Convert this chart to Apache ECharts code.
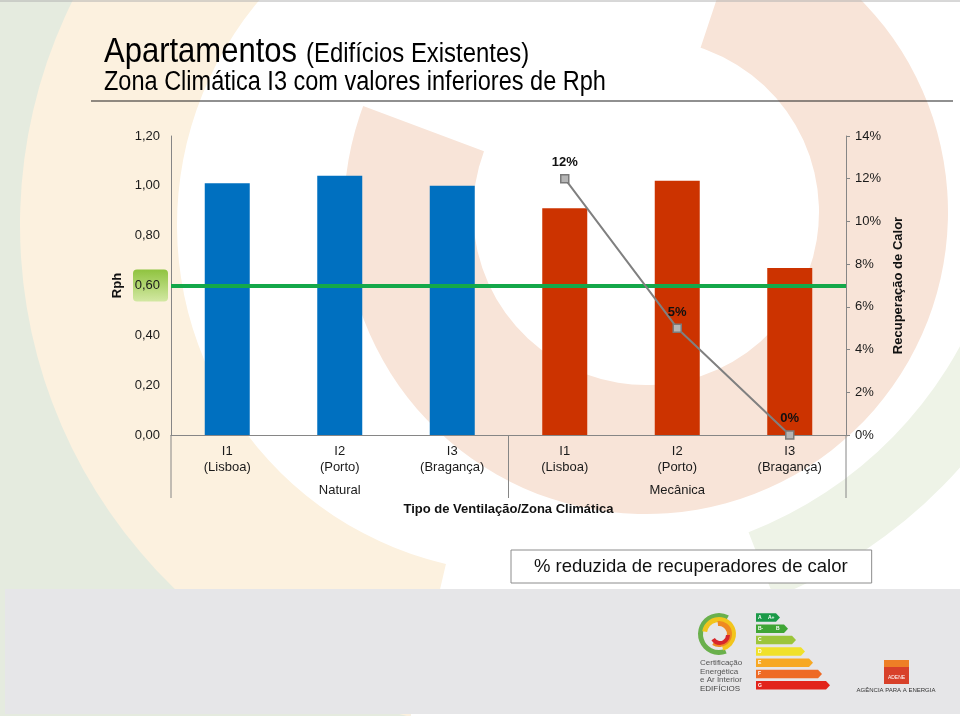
<!DOCTYPE html>
<html><head><meta charset="utf-8">
<script src="https://cdn.jsdelivr.net/npm/echarts@6/dist/echarts.min.js"></script>
<style>html,body{margin:0;padding:0;background:#fff}#c{width:960px;height:716px}</style>
</head><body><div id="c"></div>
<script>
// ---- data ----
const categories = ['I1\n(Lisboa)', 'I2\n(Porto)', 'I3\n(Bragança)', 'I1\n(Lisboa)', 'I2\n(Porto)', 'I3\n(Bragança)'];
const groupOfCategory = ['Natural', 'Natural', 'Natural', 'Mecânica', 'Mecânica', 'Mecânica'];
const groupLabels = ['', 'Natural', '', '', 'Mecânica', ''];
const rphValues = [1.01, 1.04, 1.00, 0.91, 1.02, 0.67];
const recuperacaoPct = [null, null, null, 12, 5, 0];
const rphReference = 0.60;
const lineSeriesName = '% reduzida de recuperadores de calor';
const axisTitleX = 'Tipo de Ventilação/Zona Climática';
const titleMain = 'Apartamentos';
const titleParen = '(Edifícios Existentes)';
const titleSub = 'Zona Climática I3 com valores inferiores de Rph';

const groupColors = { 'Natural': '#0070c0', 'Mecânica': '#cc3300' };
const FONT = "'Liberation Sans', Arial, sans-serif";

const chart = echarts.init(document.getElementById('c'), null, { renderer: 'canvas' });

const option = {
  animation: false,
  textStyle: { fontFamily: FONT },
  grid: { left: 171, right: 114, top: 136, bottom: 281, containLabel: false },
  legend: {
    data: [lineSeriesName], left: 511, top: 550, icon: 'none', itemWidth: 0, itemHeight: 18,
    padding: [7, 24, 7, 18], backgroundColor: '#ffffff', borderColor: '#8c8c8c', borderWidth: 1,
    selectedMode: false, textStyle: { fontSize: 18.5, color: '#111', fontFamily: FONT }
  },
  xAxis: [
    {
      type: 'category', data: categories,
      axisLine: { lineStyle: { color: '#868686' } }, axisTick: { show: false },
      axisLabel: { interval: 0, margin: 8, fontSize: 13, lineHeight: 16, color: '#1a1a1a' }
    },
    {
      type: 'category', data: groupLabels, position: 'bottom',
      axisLine: { show: false }, axisTick: { show: false },
      axisLabel: { interval: 0, margin: 49, fontSize: 13, color: '#1a1a1a' },
      name: axisTitleX, nameLocation: 'middle', nameGap: 68,
      nameTextStyle: { fontSize: 13, fontWeight: 'bold', color: '#111' }
    }
  ],
  yAxis: [
    {
      type: 'value', min: 0, max: 1.2, interval: 0.2, splitLine: { show: false },
      axisLine: { show: true, lineStyle: { color: '#868686' } }, axisTick: { show: false },
      axisLabel: { margin: 11, fontSize: 13, color: '#1a1a1a', formatter: v => v.toFixed(2).replace('.', ',') },
      name: 'Rph', nameLocation: 'middle', nameGap: 37,
      nameTextStyle: { fontSize: 13, fontWeight: 'bold', color: '#111' }
    },
    {
      type: 'value', min: 0, max: 14, interval: 2, position: 'right', splitLine: { show: false },
      axisLine: { show: true, lineStyle: { color: '#868686' } },
      axisTick: { show: true, length: 4, lineStyle: { color: '#868686' } },
      axisLabel: { margin: 9, fontSize: 13, color: '#1a1a1a', formatter: '{value}%' },
      name: 'Recuperação de Calor', nameLocation: 'middle', nameGap: 41,
      nameTextStyle: { fontSize: 13, fontWeight: 'bold', color: '#111' }
    }
  ],
  series: [
    {
      type: 'bar', name: 'Rph', data: rphValues, barWidth: '40%',
      itemStyle: { color: p => groupColors[groupOfCategory[p.dataIndex]] },
      markLine: {
        silent: true, symbol: 'none', data: [{ yAxis: rphReference }],
        lineStyle: { color: '#14a84a', width: 4, type: 'solid' }, label: { show: false }
      }
    },
    {
      type: 'line', name: lineSeriesName, yAxisIndex: 1, data: recuperacaoPct,
      symbol: 'rect', symbolSize: 8, z: 5,
      itemStyle: { color: '#b5b5b5', borderColor: '#7a7a7a', borderWidth: 1.5 },
      lineStyle: { color: '#808080', width: 2 },
      label: { show: true, position: 'top', distance: 5, formatter: '{c}%', fontSize: 13, fontWeight: 'bold', color: '#111' }
    }
  ]
};
chart.setOption(option);

// ---- decorations placed from the library's own scales ----
const x0 = chart.convertToPixel({ xAxisIndex: 0 }, 0);
const x1 = chart.convertToPixel({ xAxisIndex: 0 }, 1);
const band = x1 - x0;
const boundaries = [0, 3, 6].map(i => x0 - band / 2 + i * band);
const yZero = chart.convertToPixel({ yAxisIndex: 0 }, 0);
const yRef = chart.convertToPixel({ yAxisIndex: 0 }, rphReference);

const g = [];
// background swooshes
g.push({ type: 'sector', z: -20, shape: { cx: 525, cy: 225, r0: 500, r: 1000, startAngle: 1.8, endAngle: 5.0 }, style: { fill: '#e5ebdf' } });
g.push({ type: 'sector', z: -19, shape: { cx: 525, cy: 225, r0: 348, r: 505, startAngle: 1.8, endAngle: 5.0 }, style: { fill: '#fcf1df' } });
g.push({ type: 'sector', z: -17, shape: { cx: 600, cy: 150, r0: 410, r: 480, startAngle: 0.35, endAngle: 1.2 }, style: { fill: '#eef3e7' } });
g.push({ type: 'sector', z: -16, shape: { cx: 646, cy: 212, r0: 173, r: 302, startAngle: -1.25, endAngle: 3.5 }, style: { fill: '#f8e4d8' } });
// top border
g.push({ type: 'line', z: -10, shape: { x1: 0, y1: 1, x2: 960, y2: 1 }, style: { stroke: '#b0b0b0', lineWidth: 1 } });
// title rule
g.push({ type: 'line', z: 1, shape: { x1: 91, y1: 101, x2: 953, y2: 101 }, style: { stroke: '#222', lineWidth: 1.2 } });
// titles (condensed look via horizontal scale)
g.push({ type: 'text', z: 1, x: 104, y: 70, scaleX: 0.886, style: { x: 0, y: 0, text: titleMain, fontSize: 35, fontFamily: FONT, fill: '#000', verticalAlign: 'bottom' } });
g.push({ type: 'text', z: 1, x: 306, y: 68.5, scaleX: 0.885, style: { x: 0, y: 0, text: titleParen, fontSize: 27, fontFamily: FONT, fill: '#000', verticalAlign: 'bottom' } });
g.push({ type: 'text', z: 1, x: 104, y: 96, scaleX: 0.871, style: { x: 0, y: 0, text: titleSub, fontSize: 27, fontFamily: FONT, fill: '#000', verticalAlign: 'bottom' } });
// highlight box behind the 0,60 label
g.push({
  type: 'rect', z: -1, shape: { x: 133, y: yRef - 16, width: 35, height: 32, r: 4 },
  style: { fill: new echarts.graphic.LinearGradient(0, 0, 0, 1, [{ offset: 0, color: '#8fc33f' }, { offset: 1, color: '#d3e8a3' }]) }
});
// group separators below the category axis
boundaries.forEach(bx => g.push({ type: 'line', z: 1, shape: { x1: bx, y1: yZero, x2: bx, y2: yZero + 63 }, style: { stroke: '#868686', lineWidth: 1 } }));

// footer band
g.push({ type: 'rect', z: -5, shape: { x: 5, y: 589, width: 955, height: 125 }, style: { fill: '#e6e6e8' } });
// certification logo
const lc = { cx: 719, cy: 634 };
g.push({ type: 'sector', z: 1, shape: { cx: lc.cx, cy: lc.cy, r0: 16, r: 21, startAngle: 1.2, endAngle: 5.2 }, style: { fill: '#6ab04c' } });
g.push({ type: 'sector', z: 1, shape: { cx: lc.cx, cy: lc.cy, r0: 12, r: 17, startAngle: 3.3, endAngle: 7.6 }, style: { fill: '#f2c51c' } });
g.push({ type: 'sector', z: 1, shape: { cx: lc.cx, cy: lc.cy, r0: 8, r: 13, startAngle: 4.6, endAngle: 8.4 }, style: { fill: '#ef8a22' } });
g.push({ type: 'sector', z: 1, shape: { cx: lc.cx + 1, cy: lc.cy + 1, r0: 6, r: 10, startAngle: 0.0, endAngle: 2.6 }, style: { fill: '#d7262b' } });
['Certificação', 'Energética', 'e Ar Interior'].forEach((t, i) => g.push({ type: 'text', z: 1, style: { x: 700, y: 663 + i * 8.5, text: t, fontSize: 8, fontFamily: FONT, fill: '#555', verticalAlign: 'middle' } }));
g.push({ type: 'text', z: 1, style: { x: 700, y: 689, text: 'EDIFÍCIOS', fontSize: 8, fontFamily: FONT, fill: '#444', verticalAlign: 'middle' } });
// energy label arrows
const labelRows = [['A', 'A+', '#1a9a48', 780], ['B-', 'B', '#3fa535', 788], ['C', '', '#9cc53b', 796], ['D', '', '#f0e12a', 805], ['E', '', '#f7a823', 813], ['F', '', '#ee6a25', 822], ['G', '', '#e2231a', 830]];
labelRows.forEach((r, i) => {
  const yc = 617.5 + i * 11.3, h = 8.5, xs = 756, xe = r[3];
  g.push({ type: 'polygon', z: 1, shape: { points: [[xs, yc - h / 2], [xe - 4, yc - h / 2], [xe, yc], [xe - 4, yc + h / 2], [xs, yc + h / 2]] }, style: { fill: r[2] } });
  g.push({ type: 'text', z: 2, style: { x: xs + 2, y: yc, text: r[0], fontSize: 5, fontWeight: 'bold', fontFamily: FONT, fill: '#fff', verticalAlign: 'middle' } });
  if (r[1]) g.push({ type: 'text', z: 2, style: { x: xe - 12, y: yc, text: r[1], fontSize: 5, fontWeight: 'bold', fontFamily: FONT, fill: '#fff', verticalAlign: 'middle' } });
});
// ADENE logo
g.push({ type: 'rect', z: 1, shape: { x: 884, y: 660, width: 25, height: 24 }, style: { fill: '#d8412a' } });
g.push({ type: 'rect', z: 1, shape: { x: 884, y: 660, width: 25, height: 7 }, style: { fill: '#ee7f26' } });
g.push({ type: 'text', z: 2, style: { x: 896.5, y: 678, text: 'ADENE', fontSize: 5, fontFamily: FONT, fill: '#fff', align: 'center', verticalAlign: 'middle' } });
g.push({ type: 'text', z: 1, style: { x: 896, y: 690, text: 'AGÊNCIA PARA A ENERGIA', fontSize: 6, fontFamily: FONT, fill: '#333', align: 'center', verticalAlign: 'middle' } });

chart.setOption({ graphic: g });
</script>
</body></html>
